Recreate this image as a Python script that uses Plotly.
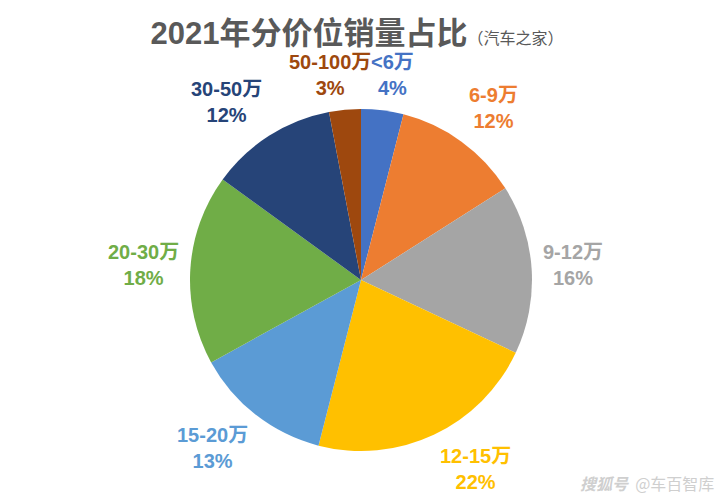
import math
import plotly.graph_objects as go

categories = ["<6万", "6-9万", "9-12万", "12-15万", "15-20万", "20-30万", "30-50万", "50-100万"]
shares = [4, 12, 16, 22, 13, 18, 12, 3]
colors = ["#4472C4", "#ED7D31", "#A5A5A5", "#FFC000", "#5B9BD5", "#70AD47", "#264478", "#9E480E"]

W, H = 725, 501
M_T, M_B, M_L, M_R = 109, 50, 0, 3
FONT = "Liberation Sans, Arial, Noto Sans CJK SC, sans-serif"
LABEL_SIZE = 20

fig = go.Figure(go.Pie(
    labels=categories, values=shares, sort=False, direction="clockwise", rotation=0,
    marker=dict(colors=colors, line=dict(width=0)), textinfo="none", hoverinfo="label+percent",
    showlegend=False,
))

plot_h = H - M_T - M_B
plot_w = W - M_L - M_R
r = min(plot_h, plot_w) / 2
cx = M_L + plot_w / 2
cy = M_T + plot_h / 2


def to_paper(px, py):
    return (px - M_L) / plot_w, (H - M_B - py) / plot_h


# label placement derived from the slice angles
gap = 9
total = sum(shares)
cum = 0
annotations = []
for cat, v, col in zip(categories, shares, colors):
    mid = (cum + v / 2) / total * 2 * math.pi
    cum += v
    s, c = math.sin(mid), math.cos(mid)
    px = cx + (r + gap) * s
    py = cy - (r + gap) * c
    width_est = sum(LABEL_SIZE if ord(ch) > 255 else LABEL_SIZE * 0.56 for ch in cat)
    hw = width_est / 2
    hh = 26
    fx = max(-1, min(1, s * 3.5))
    fy = max(-1, min(1, c * 2.5))
    xp, yp = to_paper(px, py)
    annotations.append(dict(
        x=xp, y=yp, xref="paper", yref="paper",
        xanchor="center", yanchor="middle", xshift=fx * hw, yshift=fy * hh,
        text=f"<b>{cat}</b><br><b>{v}%</b>", showarrow=False,
        font=dict(family=FONT, size=LABEL_SIZE, color=col), align="center",
    ))

wx, wy = to_paper(716, 497)
annotations.append(dict(
    x=wx, y=wy, xref="paper", yref="paper", xanchor="right", yanchor="bottom",
    text="<i><b>搜狐号</b></i>  @车百智库", showarrow=False,
    font=dict(family="Noto Sans CJK SC, sans-serif", size=16, color="#CFCFCF"),
))

fig.update_layout(
    width=W, height=H,
    margin=dict(t=M_T, b=M_B, l=M_L, r=M_R),
    paper_bgcolor="white", plot_bgcolor="white",
    title=dict(
        text="<b>2021年分价位销量占比</b><span style='font-size:16px'>（汽车之家）</span>",
        x=357 / W, xanchor="center", y=1 - 33 / H, yanchor="middle",
        font=dict(family=FONT, size=31, color="#595959"),
    ),
    annotations=annotations,
)

fig.write_html("out.html")
